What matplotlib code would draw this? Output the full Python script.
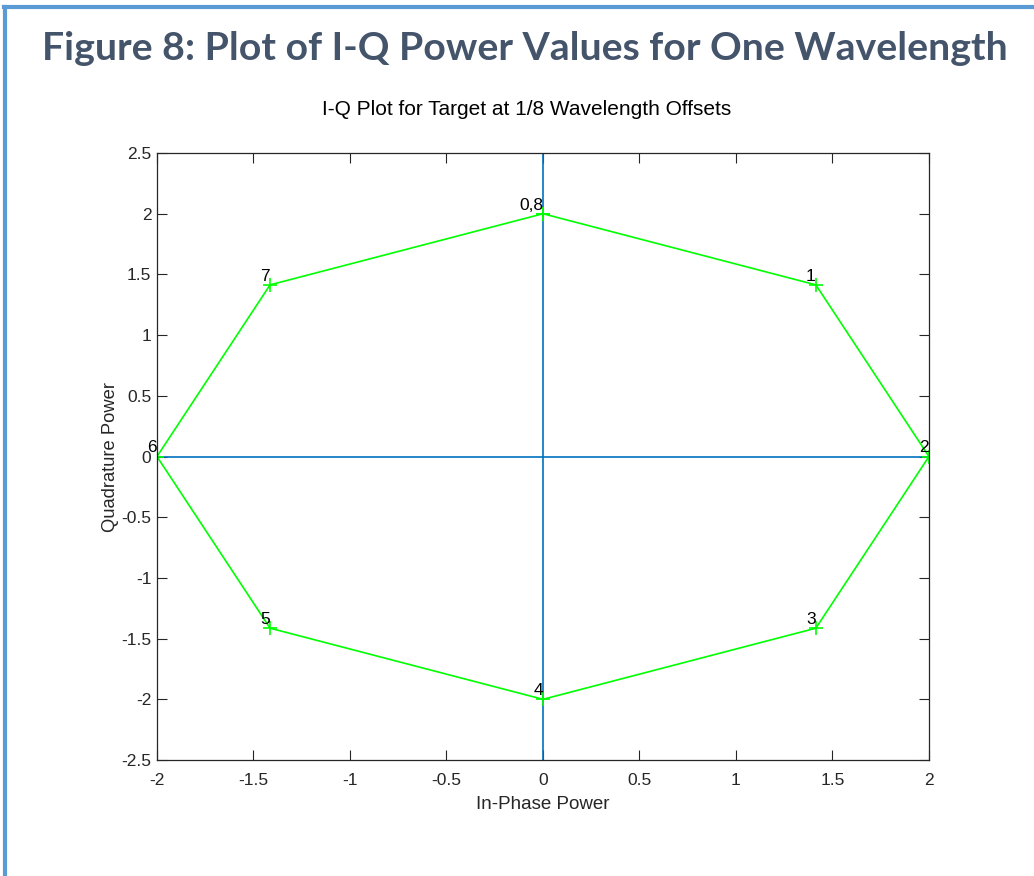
import matplotlib.pyplot as plt
from matplotlib.lines import Line2D

# I-Q samples at 1/8 wavelength offsets
labels = ['0,8', '1', '2', '3', '4', '5', '6', '7', '0,8']
i_vals = [0, 1.414, 2, 1.414, 0, -1.414, -2, -1.414, 0]
q_vals = [2, 1.414, 0, -1.414, -2, -1.414, 0, 1.414, 2]
xticks = [-2, -1.5, -1, -0.5, 0, 0.5, 1, 1.5, 2]
yticks = [-2.5, -2, -1.5, -1, -0.5, 0, 0.5, 1, 1.5, 2, 2.5]

plt.rcParams['font.family'] = ['Liberation Sans', 'DejaVu Sans']

fig = plt.figure(figsize=(10.34, 8.76), dpi=100)

# page border (top and left)
fig.add_artist(Line2D([0.004, 1], [0.9925, 0.9925], color='#5B9BD5', lw=3))
fig.add_artist(Line2D([0.0053, 0.0053], [0, 0.9925], color='#5B9BD5', lw=3))

fig.text(0.508, 0.945, 'Figure 8: Plot of I-Q Power Values for One Wavelength',
         ha='center', va='center', fontsize=28.3, fontweight='bold',
         color='#44546A', family=['Lato', 'DejaVu Sans'])

ax = fig.add_axes([0.1518, 0.1324, 0.7466, 0.6929])

ax.plot([0, 0], [-2.5, 2.5], color='#0072BD', lw=1.2)
ax.plot([-2, 2], [0, 0], color='#0072BD', lw=1.2)
ax.plot(i_vals, q_vals, color='#00FF00', lw=1.2, marker='+', ms=10, mew=1.2)

for lab, x, y in zip(labels[:-1], i_vals[:-1], q_vals[:-1]):
    ax.text(x, y + 0.01, lab, ha='right', va='bottom', fontsize=12.5, color='black')

ax.set_xlim(-2, 2)
ax.set_ylim(-2.5, 2.5)
ax.set_xticks(xticks)
ax.set_xticklabels([f'{t:g}' for t in xticks])
ax.set_yticks(yticks)
ax.set_yticklabels([f'{t:g}' for t in yticks])
ax.tick_params(direction='in', top=True, right=True, length=7, width=0.8,
               color='#262626', labelcolor='#262626', labelsize=12.5)
ax.tick_params(axis='x', pad=9)
ax.tick_params(axis='y', pad=4)
for s in ax.spines.values():
    s.set_color('#262626')
    s.set_linewidth(0.9)

fig.text(0.509, 0.875, 'I-Q Plot for Target at 1/8 Wavelength Offsets',
         ha='center', va='center', fontsize=15)
ax.set_xlabel('In-Phase Power', fontsize=13.5, color='#262626', labelpad=6)
ax.set_ylabel('Quadrature Power', fontsize=13.2, color='#262626', labelpad=2)

plt.savefig('out.png', dpi=100)
